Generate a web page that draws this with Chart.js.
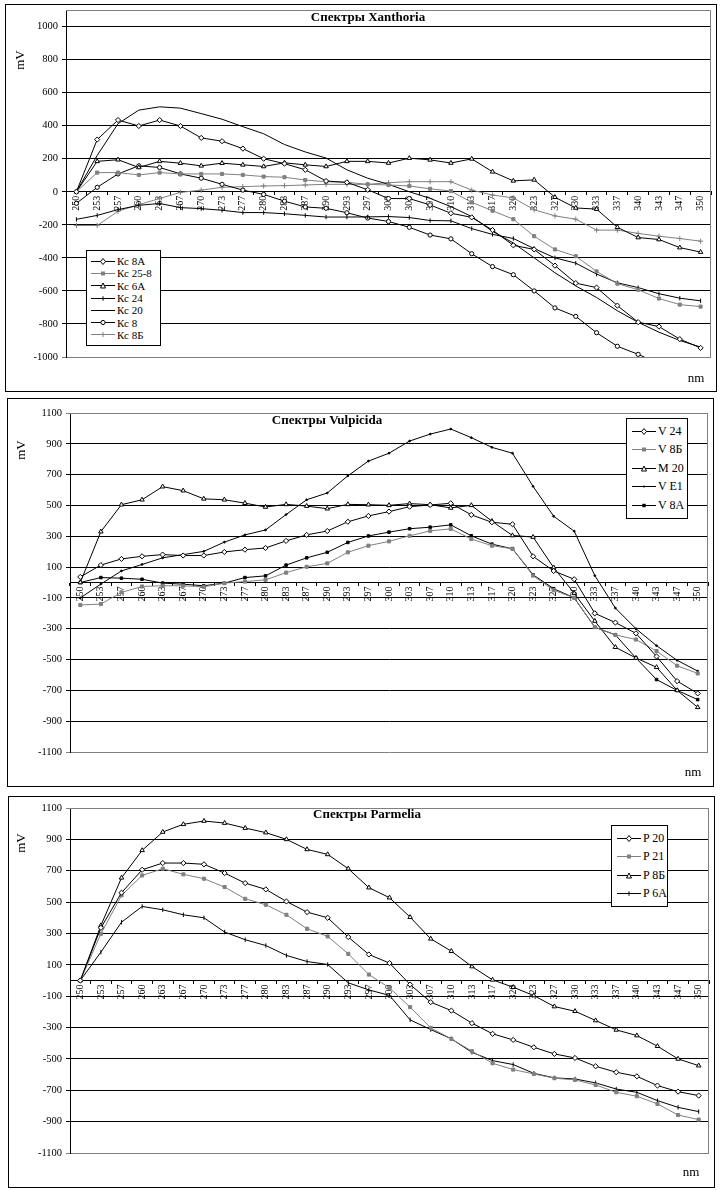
<!DOCTYPE html>
<html><head><meta charset="utf-8">
<script src="https://cdn.jsdelivr.net/npm/chart.js@4.4.0/dist/chart.umd.min.js"></script>
<style>
body{margin:0;background:#fff;width:721px;height:1190px;position:relative;overflow:hidden;font-family:"Liberation Serif",serif}
.box{position:absolute;border:1px solid #000;background:#fff}
.box canvas{display:block}
.lg{position:absolute;border:1px solid #000;background:#fff;box-sizing:border-box;color:#000}
.lg .row{display:flex;align-items:center;white-space:nowrap}
.lg svg{flex:none;margin-right:2px}
</style></head><body>
<div class="box" style="left:5px;top:4px;width:710px;height:386px"><canvas id="c1"></canvas></div>
<div class="box" style="left:7px;top:398px;width:705px;height:387px"><canvas id="c2"></canvas></div>
<div class="box" style="left:8px;top:796px;width:705px;height:390px"><canvas id="c3"></canvas></div>
<div class="lg" id="lg1" style="left:86px;top:250px;width:75px;padding:4px 0 4px 4px;font-size:11px"></div>
<div class="lg" id="lg2" style="left:626px;top:418px;width:62px;padding:3px 0 3px 5px;font-size:12px"></div>
<div class="lg" id="lg3" style="left:611px;top:825px;width:57px;padding:3px 0 3px 5px;font-size:12px"></div>
<script>
const nmLabels = ['250','253','257','260','263','267','270','273','277','280','283','287','290','293','297','300','303','307','310','313','317','320','323','327','330','333','337','340','343','347','350'];

// Xanthoria
const kc8A  = [0,316,434,398,434,398,326,306,261,200,170,133,65,57,12,-41,-41,-80,-130,-155,-232,-324,-349,-447,-553,-580,-689,-789,-816,-892,-945];
const kc258 = [0,116,116,102,116,108,108,108,102,92,88,71,61,57,45,41,35,18,4,-64,-115,-166,-269,-349,-390,-482,-556,-593,-646,-683,-695];
const kc6A  = [0,184,194,147,184,173,157,173,163,153,175,163,153,184,184,174,203,193,174,199,121,66,72,-33,-98,-105,-215,-277,-289,-338,-365];
const kc24  = [-167,-143,-108,-82,-71,-96,-102,-112,-126,-126,-133,-143,-153,-153,-152,-150,-156,-174,-176,-223,-258,-283,-344,-400,-432,-498,-551,-580,-617,-644,-660];
const kc20  = [0,220,412,494,514,506,473,439,394,351,286,241,204,133,82,45,0,-40,-90,-150,-240,-310,-400,-490,-570,-640,-720,-790,-850,-900,-940];
const kc8   = [-70,27,108,157,147,108,82,45,10,-16,-57,-92,-100,-127,-159,-180,-215,-262,-285,-375,-453,-502,-600,-703,-754,-853,-935,-984,-1040,-1090,-1130];
const kc8B  = [-204,-204,-118,-78,-41,-4,10,27,31,35,37,41,45,45,45,55,61,61,61,10,-20,-37,-109,-146,-166,-232,-232,-252,-269,-283,-299];

// Vulpicida
const v24 = [36,113,153,170,181,175,175,198,213,224,270,309,334,394,432,460,492,503,514,439,391,378,170,75,21,-200,-260,-330,-480,-640,-720];
const v8B = [-146,-140,-64,-26,-21,-21,-28,-4,6,17,64,102,124,196,239,267,303,335,348,282,239,219,45,-50,-100,-290,-340,-370,-445,-540,-590];
const m20 = [0,330,505,537,622,596,543,537,515,490,507,496,479,507,505,501,512,505,484,501,398,305,295,97,-70,-250,-420,-490,-550,-700,-810];
const vE1 = [-100,-10,75,117,160,181,202,262,309,341,441,537,581,692,788,839,918,963,996,940,877,839,624,430,333,45,-166,-300,-410,-505,-575];
const v8A = [0,32,28,21,-4,-11,-21,-4,32,43,113,160,196,260,302,327,349,359,374,303,249,219,50,-40,-100,-290,-340,-490,-630,-700,-760];

// Parmelia
const p20 = [0,336,560,706,749,749,741,685,621,581,504,436,400,277,166,111,-26,-138,-192,-272,-340,-379,-426,-468,-494,-547,-585,-611,-670,-709,-734];
const p21 = [0,298,543,670,713,677,649,596,521,483,419,330,281,170,38,-47,-170,-302,-372,-451,-528,-568,-596,-623,-634,-666,-713,-738,-787,-858,-887];
const p8B = [0,351,655,830,947,996,1017,1004,972,943,900,836,804,713,592,528,404,266,187,89,4,-43,-96,-166,-196,-255,-315,-351,-419,-500,-543];
const p6A = [0,181,372,472,451,419,400,309,260,223,160,121,102,-15,-60,-95,-251,-313,-372,-458,-511,-536,-592,-621,-628,-653,-692,-713,-766,-809,-836];

const yTicks1 = [-1000,-800,-600,-400,-200,0,200,400,600,800,1000];
const yTicks23 = [-1100,-900,-700,-500,-300,-100,100,300,500,700,900,1100];

const BLK = '#000', GRY = '#808080';
const FONT = '"Liberation Serif", "DejaVu Serif", serif';

// marker presets
const mk = {
  diamond: { pointStyle: 'rectRot', pointRadius: 2.6, pointBackgroundColor: '#fff' },
  square:  { pointStyle: 'rect', pointRadius: 2.2 },
  tri:     { pointStyle: 'triangle', pointRadius: 2.6, pointBackgroundColor: '#fff' },
  dash:    { pointStyle: 'line', pointRadius: 2.2, pointRotation: 90 },
  none:    { pointRadius: 0 },
  circle:  { pointStyle: 'circle', pointRadius: 2.1, pointBackgroundColor: '#fff' },
  plus:    { pointStyle: 'cross', pointRadius: 2.6 },
  dot:     { pointStyle: 'circle', pointRadius: 0.9 },
  smallsq: { pointStyle: 'rect', pointRadius: 1.8 }
};

function ds(label, data, color, m) {
  return Object.assign({
    label, data, mk: m,
    borderColor: color, borderWidth: 1,
    pointBorderColor: color, pointBackgroundColor: color, pointBorderWidth: 1,
    fill: false, tension: 0
  }, mk[m]);
}

const textPlugin = {
  id: 'texts',
  beforeDatasetsDraw(chart) {
    const a = chart.chartArea, ctx = chart.ctx;
    ctx.save();
    ctx.strokeStyle = GRY; ctx.lineWidth = 1;
    ctx.beginPath();
    ctx.moveTo(a.left, a.top + 0.5); ctx.lineTo(a.right - 0.5, a.top + 0.5); ctx.lineTo(a.right - 0.5, a.bottom);
    ctx.stroke();
    ctx.restore();
  },
  afterDraw(chart, args, opts) {
    const ctx = chart.ctx;
    (opts.items || []).forEach(t => {
      ctx.save();
      ctx.font = t.font; ctx.fillStyle = BLK;
      ctx.textAlign = 'center'; ctx.textBaseline = 'middle';
      ctx.translate(t.x, t.y);
      if (t.rot) ctx.rotate(t.rot);
      ctx.fillText(t.text, 0, 0);
      ctx.restore();
    });
  }
};

function makeChart(id, datasets, yMin, yMax, yTicks, padding, texts) {
  return new Chart(document.getElementById(id), {
    type: 'line',
    data: { labels: nmLabels, datasets },
    plugins: [textPlugin],
    options: {
      responsive: true,
      maintainAspectRatio: false,
      animation: false,
      layout: { padding },
      plugins: {
        legend: { display: false },
        tooltip: { enabled: false },
        texts: { items: texts }
      },
      scales: {
        x: {
          position: { y: 0 },
          offset: true,
          grid: { offset: true, drawOnChartArea: false, drawTicks: true, tickLength: 3, color: BLK },
          border: { color: BLK, width: 1 },
          ticks: { autoSkip: false, minRotation: 90, maxRotation: 90, padding: 1, color: BLK, font: { family: FONT, size: 10 } }
        },
        y: {
          position: 'left',
          min: yMin, max: yMax,
          afterBuildTicks: s => { s.ticks = yTicks.map(v => ({ value: v })); },
          afterFit: s => { s.width = 48; s.paddingTop = 0; s.paddingBottom = 0; },
          grid: {
            color: c => (c.tick && (c.tick.value === yMin || c.tick.value === yMax)) ? GRY : BLK,
            tickLength: 4, lineWidth: 1
          },
          border: { color: BLK, width: 1 },
          ticks: { padding: 4, color: BLK, font: { family: FONT, size: 10.5 }, callback: v => String(v) }
        }
      }
    }
  });
}

function markerSvg(d) {
  const c = d.borderColor;
  let m = '';
  if (d.mk === 'diamond') m = `<polygon points="12,1.5 14.5,4.5 12,7.5 9.5,4.5" fill="#fff" stroke="${c}"/>`;
  else if (d.mk === 'square') m = `<rect x="10" y="2.5" width="4" height="4" fill="${c}"/>`;
  else if (d.mk === 'smallsq') m = `<rect x="10.3" y="2.8" width="3.4" height="3.4" fill="${c}"/>`;
  else if (d.mk === 'tri') m = `<polygon points="12,2 14.5,7 9.5,7" fill="#fff" stroke="${c}"/>`;
  else if (d.mk === 'dash') m = `<line x1="12" y1="2.3" x2="12" y2="6.7" stroke="${c}"/>`;
  else if (d.mk === 'circle') m = `<circle cx="12" cy="4.5" r="2.1" fill="#fff" stroke="${c}"/>`;
  else if (d.mk === 'plus') m = `<line x1="12" y1="2" x2="12" y2="7" stroke="${c}"/>`;
  else if (d.mk === 'dot') m = `<circle cx="12" cy="4.5" r="1.1" fill="${c}"/>`;
  return `<svg width="24" height="9"><line x1="0" y1="4.5" x2="24" y2="4.5" stroke="${c}"/>${m}</svg>`;
}

function makeLegend(id, datasets, rowH) {
  document.getElementById(id).innerHTML = datasets.map(d =>
    `<div class="row" style="height:${rowH}px">${markerSvg(d)}<span>${d.label}</span></div>`).join('');
}

const set1 = [
  ds('Кс 8А', kc8A, BLK, 'diamond'),
  ds('Кс 25-8', kc258, GRY, 'square'),
  ds('Кс 6А', kc6A, BLK, 'tri'),
  ds('Кс 24', kc24, BLK, 'dash'),
  ds('Кс 20', kc20, BLK, 'none'),
  ds('Кс 8', kc8, BLK, 'circle'),
  ds('Кс 8Б', kc8B, GRY, 'plus')
];
const set2 = [
  ds('V 24', v24, BLK, 'diamond'),
  ds('V 8Б', v8B, GRY, 'square'),
  ds('M 20', m20, BLK, 'tri'),
  ds('V E1', vE1, BLK, 'dot'),
  ds('V 8A', v8A, BLK, 'smallsq')
];
const set3 = [
  ds('P 20', p20, BLK, 'diamond'),
  ds('P 21', p21, GRY, 'square'),
  ds('P 8Б', p8B, BLK, 'tri'),
  ds('P 6A', p6A, BLK, 'dash')
];

const titleFont = 'bold 13px ' + FONT, axFont = '13px ' + FONT;
makeChart('c1', set1, -1000, 1100, yTicks1, { left: 12, top: 5, right: 1, bottom: 34 }, [
  { text: 'Спектры Xanthoria', x: 362, y: 13, font: titleFont },
  { text: 'mV', x: 15, y: 55, font: axFont, rot: -Math.PI / 2 },
  { text: 'nm', x: 690, y: 374, font: axFont }
]);
makeChart('c2', set2, -1100, 1100, yTicks23, { left: 14, top: 14, right: 1, bottom: 34 }, [
  { text: 'Спектры Vulpicida', x: 319, y: 22, font: titleFont },
  { text: 'mV', x: 14, y: 51, font: axFont, rot: -Math.PI / 2 },
  { text: 'nm', x: 685, y: 374, font: axFont }
]);
makeChart('c3', set3, -1100, 1100, yTicks23, { left: 13, top: 11, right: 2, bottom: 34 }, [
  { text: 'Спектры Parmelia', x: 358, y: 18, font: titleFont },
  { text: 'mV', x: 13, y: 46, font: axFont, rot: -Math.PI / 2 },
  { text: 'nm', x: 682, y: 376, font: axFont }
]);

makeLegend('lg1', set1, 12.3);
makeLegend('lg2', set2, 18.5);
makeLegend('lg3', set3, 18.5);
</script>
</body></html>
